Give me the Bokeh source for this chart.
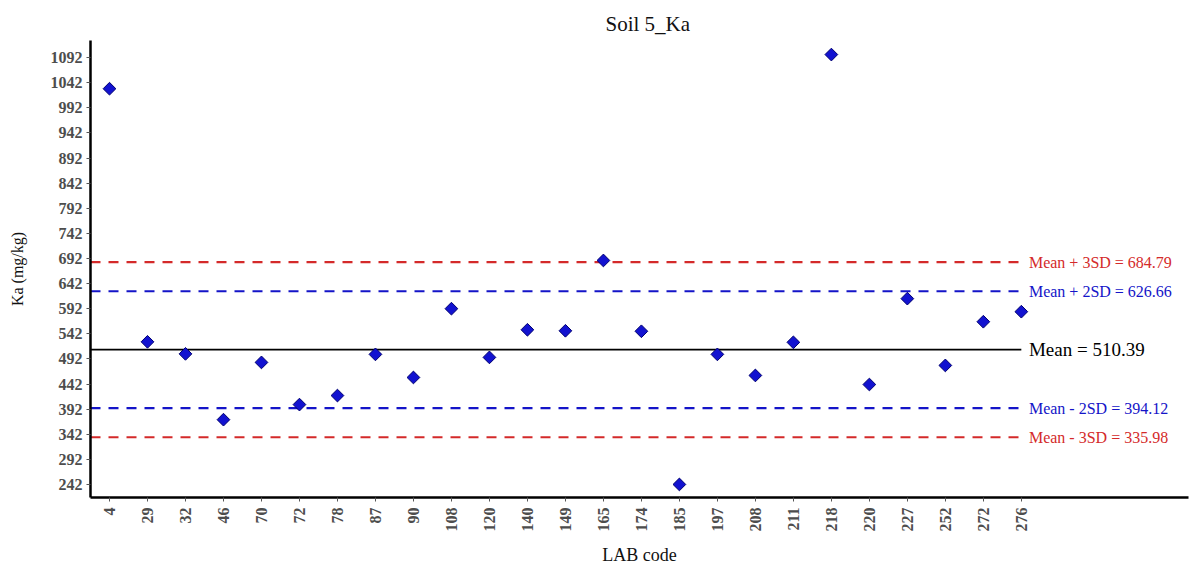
import math
from bokeh.plotting import figure
from bokeh.models import ColumnDataSource, FixedTicker, Range1d, Label
from bokeh.embed import file_html
from bokeh.resources import INLINE

lab_codes = ["4", "29", "32", "46", "70", "72", "78", "87", "90", "108", "120", "140", "149",
             "165", "174", "185", "197", "208", "211", "218", "220", "227", "252", "272", "276"]
ka_values = [1030, 526, 502, 371, 485, 401, 419, 501, 455, 592, 495, 550, 548,
             688, 547, 242, 501, 459, 525, 1098, 441, 612, 479, 566, 586]
y_ticks = [242, 292, 342, 392, 442, 492, 542, 592, 642, 692, 742, 792, 842, 892, 942, 992, 1042, 1092]
mean_val = 510.39
ref_names = ["Mean + 3SD", "Mean + 2SD", "Mean - 2SD", "Mean - 3SD"]
ref_values = [684.79, 626.66, 394.12, 335.98]
ref_colors = ["#D42A2A", "#1414C8", "#1414C8", "#D42A2A"]

FONT = "Liberation Serif"

x_idx = list(range(len(lab_codes)))
src = ColumnDataSource(dict(x=x_idx, y=ka_values, code=lab_codes))

p = figure(frame_width=1098, frame_height=457, output_backend="svg", toolbar_location=None,
           x_range=Range1d(-0.5, 28.4), y_range=Range1d(216, 1126),
           title="Soil 5_Ka", min_border_left=90, min_border_right=4,
           min_border_top=40, min_border_bottom=64)
p.outline_line_color = None
p.grid.grid_line_color = None
p.background_fill_color = "white"

p.title.text_font = FONT
p.title.text_font_style = "normal"
p.title.text_font_size = "21px"
p.title.align = "left"
p.title.offset = 515
p.title.text_color = "#111111"

# axes
p.xaxis.ticker = FixedTicker(ticks=x_idx)
p.xaxis.major_label_overrides = {i: c for i, c in enumerate(lab_codes)}
p.xaxis.major_label_orientation = math.pi / 2
p.yaxis.ticker = FixedTicker(ticks=y_ticks)
for ax in (p.xaxis, p.yaxis):
    ax.axis_line_width = 2.5
    ax.axis_line_color = "black"
    ax.major_tick_line_color = "#555555"
    ax.major_tick_in = 0
    ax.major_tick_out = 4
    ax.minor_tick_line_color = None
    ax.major_label_text_font = FONT
    ax.major_label_text_font_style = "bold"
    ax.major_label_text_font_size = "16px"
    ax.major_label_text_color = "#4d4d4d"
    ax.axis_label_text_font = FONT
    ax.axis_label_text_font_style = "normal"
    ax.axis_label_text_color = "#111111"
p.xaxis.axis_label = "LAB code"
p.yaxis.axis_label = "Ka (mg/kg)"
p.xaxis.axis_label_text_font_size = "18px"
p.yaxis.axis_label_text_font_size = "16px"
p.xaxis.major_label_standoff = 6
p.yaxis.major_label_standoff = 4
p.xaxis.axis_label_standoff = 10
p.yaxis.axis_label_standoff = 22

# reference lines
line_x = [-0.5, 24.0]
p.line(line_x, [mean_val, mean_val], line_color="black", line_width=1.6)
for name, v, c in zip(ref_names, ref_values, ref_colors):
    p.line(line_x, [v, v], line_color=c, line_width=2.2, line_dash="10 8")
    p.add_layout(Label(x=24.2, y=v, text=f"{name} = {v:.2f}", text_font=FONT,
                       text_font_size="16px", text_color=c, text_baseline="middle"))
p.add_layout(Label(x=24.2, y=mean_val, text=f"Mean = {mean_val:.2f}", text_font=FONT,
                   text_font_size="19px", text_color="black", text_baseline="middle"))

p.scatter("x", "y", source=src, marker="square", angle=math.pi / 4, size=9,
          fill_color="#1212D0", line_color="#000070", line_width=1)

open("out.html", "w").write(file_html(p, INLINE))
